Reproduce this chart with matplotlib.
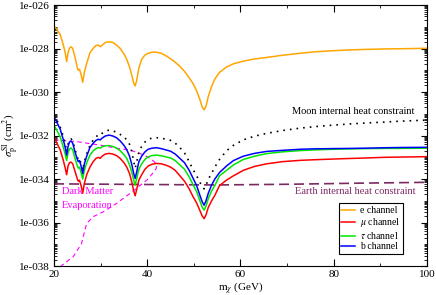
import numpy as np
import matplotlib
matplotlib.use("Agg")
import matplotlib.pyplot as plt
from matplotlib.ticker import FixedLocator, FuncFormatter

plt.rcParams['font.family'] = ['Liberation Serif', 'DejaVu Serif']
plt.rcParams['mathtext.fontset'] = 'stix'

# dark matter mass grid (GeV), shared by the channel curves
mass = [20.0, 20.5, 21.3, 22.0, 22.4, 22.7, 23.0, 23.3, 23.65, 24.0, 24.5, 25.0, 25.2,
        25.45, 25.8, 26.15, 26.5, 27.0, 27.7, 28.4, 29.0, 29.5, 29.9, 30.3, 31.0, 31.8,
        32.6, 33.4, 34.2, 35.0, 35.6, 36.2, 36.7, 37.1, 37.4, 37.7, 38.2, 38.8, 39.5,
        40.2, 41.0, 42.0, 43.0, 44.0, 45.0, 46.0, 47.0, 48.0, 49.0, 49.8, 50.6, 51.3,
        51.8, 52.2, 52.6, 53.1, 53.8, 54.5, 55.5, 57.0, 58.5, 60.6, 63.0, 65.6, 69.0,
        72.8, 76.0, 79.9, 84.0, 87.1, 91.0, 94.2, 100.0]

# log10 of sigma_p^SI (cm^2)
log_e = [-26.95, -27.1, -27.35, -27.85, -28.2, -28.6, -28.2, -27.98, -27.92, -28.0, -28.4,
         -28.9, -29.0, -28.95, -29.2, -29.55, -29.1, -28.68, -28.2, -27.99, -27.86, -27.84,
         -27.92, -27.85, -27.72, -27.69, -27.72, -27.84, -28.0, -28.25, -28.5, -28.85,
         -29.25, -29.6, -29.72, -29.5, -28.9, -28.5, -28.3, -28.22, -28.17, -28.17, -28.22,
         -28.33, -28.47, -28.63, -28.82, -29.05, -29.35, -29.6, -29.95, -30.35, -30.7,
         -30.82, -30.65, -30.2, -29.75, -29.4, -29.1, -28.85, -28.7, -28.58, -28.48,
         -28.41, -28.31, -28.22, -28.15, -28.1, -28.06, -28.04, -28.02, -28.01, -27.99]
log_b = [-31.15, -31.35, -31.7, -32.2, -32.55, -32.9, -32.5, -32.3, -32.25, -32.35, -32.75,
         -33.1, -33.2, -33.15, -33.4, -33.75, -33.3, -32.95, -32.55, -32.35, -32.22, -32.17,
         -32.2, -32.12, -32.02, -31.98, -32.02, -32.1, -32.25, -32.45, -32.65, -32.95,
         -33.35, -33.75, -33.97, -33.7, -33.2, -32.95, -32.75, -32.63, -32.58, -32.56,
         -32.6, -32.66, -32.72, -32.85, -33.05, -33.25, -33.6, -33.95, -34.3, -34.75,
         -35.05, -35.2, -35.0, -34.65, -34.28, -34.0, -33.7, -33.4, -33.15, -32.95, -32.82,
         -32.73, -32.68, -32.63, -32.61, -32.6, -32.59, -32.58, -32.56, -32.55, -32.54]
log_tau = [-31.52, -31.72, -32.05, -32.55, -32.85, -33.15, -32.8, -32.62, -32.57, -32.65,
           -33.05, -33.4, -33.5, -33.45, -33.7, -34.0, -33.6, -33.25, -32.9, -32.7, -32.6,
           -32.55, -32.58, -32.52, -32.47, -32.46, -32.5, -32.58, -32.7, -32.88, -33.05,
           -33.35, -33.7, -34.05, -34.28, -34.0, -33.55, -33.3, -33.1, -32.98, -32.92, -32.9,
           -32.93, -32.98, -33.03, -33.15, -33.35, -33.55, -33.9, -34.25, -34.58, -35.0,
           -35.3, -35.43, -35.25, -34.9, -34.55, -34.3, -33.85, -33.6, -33.35, -33.1, -32.95,
           -32.83, -32.75, -32.69, -32.66, -32.63, -32.61, -32.6, -32.59, -32.59, -32.58]
log_mu = [-32.05, -32.3, -32.65, -33.15, -33.5, -33.8, -33.4, -33.25, -33.22, -33.3, -33.65,
          -34.0, -34.1, -34.05, -34.3, -34.65, -34.2, -33.8, -33.45, -33.2, -33.05, -33.0,
          -33.05, -32.95, -32.85, -32.82, -32.85, -32.92, -33.05, -33.25, -33.45, -33.75,
          -34.15, -34.55, -34.77, -34.5, -34.05, -33.8, -33.55, -33.4, -33.32, -33.28, -33.3,
          -33.36, -33.45, -33.6, -33.85, -34.1, -34.45, -34.8, -35.1, -35.45, -35.7, -35.82,
          -35.65, -35.3, -35.0, -34.75, -34.3, -34.05, -33.85, -33.6, -33.42, -33.3, -33.2,
          -33.14, -33.11, -33.08, -33.05, -33.03, -33.0, -32.99, -32.97]
log_moon = [-31.05, -31.25, -31.6, -32.05, -32.4, -32.75, -32.4, -32.2, -32.15, -32.25,
            -32.65, -33.0, -33.1, -33.05, -33.3, -33.6, -33.2, -32.85, -32.45, -32.2,
            -32.05, -31.98, -32.0, -31.9, -31.8, -31.75, -31.78, -31.85, -31.95, -32.05,
            -32.2, -32.4, -32.75, -33.2, -33.5, -33.25, -32.75, -32.5, -32.3, -32.17, -32.12,
            -32.1, -32.12, -32.17, -32.22, -32.35, -32.55, -32.8, -33.2, -33.55, -33.85,
            -34.15, -34.35, -34.45, -34.3, -34.0, -33.75, -33.45, -33.1, -32.7, -32.45,
            -32.2, -32.03, -31.9, -31.77, -31.66, -31.59, -31.52, -31.46, -31.42, -31.38,
            -31.34, -31.29]

# earth internal heat constraint
earth_mass = [20, 40, 55, 70, 85, 100]
log_earth = [-34.22, -34.25, -34.27, -34.24, -34.19, -34.15]

# dark matter evaporation boundary (upper branch then back down)
evap_mass = [20.0, 24.9, 29.9, 33.4, 36.3, 38.4, 39.5, 40.6, 41.5, 42.0, 41.9, 41.3, 39.9,
             36.3, 33.4, 30.6, 28.4, 27.0, 26.6, 25.9, 24.1, 21.5]
log_evap = [-32.2, -32.28, -32.44, -32.58, -32.67, -32.82, -32.92, -33.05, -33.2, -33.38,
            -33.52, -33.7, -34.05, -34.66, -35.12, -35.5, -35.73, -36.04, -36.35, -36.96,
            -37.57, -38.0]

channels = ['e channel', r'$\mu$ channel', r'$\tau$ channel', 'b channel']
colors = ['#ffa500', '#ff0000', '#00e600', '#0000ff']

fig = plt.figure(figsize=(4.36, 2.95), dpi=100)
ax = fig.add_axes([0.124, 0.098, 0.855, 0.885])

ax.plot(earth_mass, 10 ** np.array(log_earth), color='#7b2863', lw=1.2,
        linestyle=(0, (6, 3)))
ax.plot(evap_mass, 10 ** np.array(log_evap), color='#ff00ff', lw=0.8,
        linestyle=(0, (4, 3)))
ax.plot(mass, 10 ** np.array(log_moon), color='black', lw=1.2, linestyle=(0, (1, 3)))

handles = []
for name, col, vals in zip(channels, colors, [log_e, log_mu, log_tau, log_b]):
    h, = ax.plot(mass, 10 ** np.array(vals), color=col, lw=1.1, label=name)
    handles.append(h)

ax.set_yscale('log')
ax.set_xlim(20, 100)
ax.set_ylim(1e-38, 1e-26)

ax.xaxis.set_major_locator(FixedLocator([20, 40, 60, 80, 100]))
ax.xaxis.set_minor_locator(FixedLocator([30, 50, 70, 90]))
majors = [10.0 ** p for p in range(-38, -25, 2)]
minors = [k * 10.0 ** p for p in range(-38, -26) for k in range(1, 10)
          if not (k == 1 and p % 2 == 0)]
ax.yaxis.set_major_locator(FixedLocator(majors))
ax.yaxis.set_minor_locator(FixedLocator(minors))
ax.yaxis.set_major_formatter(FuncFormatter(lambda v, pos: "1e-%03d" % round(-np.log10(v))))
ax.yaxis.set_minor_formatter(FuncFormatter(lambda v, pos: ""))

ax.tick_params(which='both', direction='in', top=True, right=True, labelsize=8)
ax.tick_params(axis='x', which='major', length=5, pad=3)
ax.tick_params(axis='x', which='minor', length=2.5)
ax.tick_params(axis='y', which='major', length=4, pad=3)
ax.tick_params(axis='y', which='minor', length=2)

ax.set_xlabel(r'm$_\chi$ (GeV)', fontsize=8)
ax.set_ylabel(r'$\sigma_{\rm p}^{\rm SI}$ (cm$^2$)', fontsize=8)
ax.xaxis.set_label_coords(0.5, -0.055)
ax.yaxis.set_label_coords(-0.088, 0.5)

ax.text(97.3, 10 ** -30.9, 'Moon internal heat constraint', fontsize=7.5,
        ha='right', va='center', color='black')
ax.text(97.6, 10 ** -34.58, 'Earth internal heat constraint', fontsize=7.5,
        ha='right', va='center', color='#7b2863')
ax.text(21.6, 10 ** -34.55, 'Dark Matter', fontsize=7.5, ha='left', va='center',
        color='#ff00ff')
ax.text(21.6, 10 ** -35.2, 'Evaporation', fontsize=7.5, ha='left', va='center',
        color='#ff00ff')

leg = ax.legend(handles=handles, loc='upper right', bbox_to_anchor=(0.936, 0.241),
                fontsize=7, frameon=True, fancybox=False, framealpha=1,
                edgecolor='black', handlelength=1.4, handletextpad=0.5,
                labelspacing=0.1, borderpad=0.3, borderaxespad=0)
leg.get_frame().set_linewidth(0.8)

fig.savefig('out.png', dpi=100)
